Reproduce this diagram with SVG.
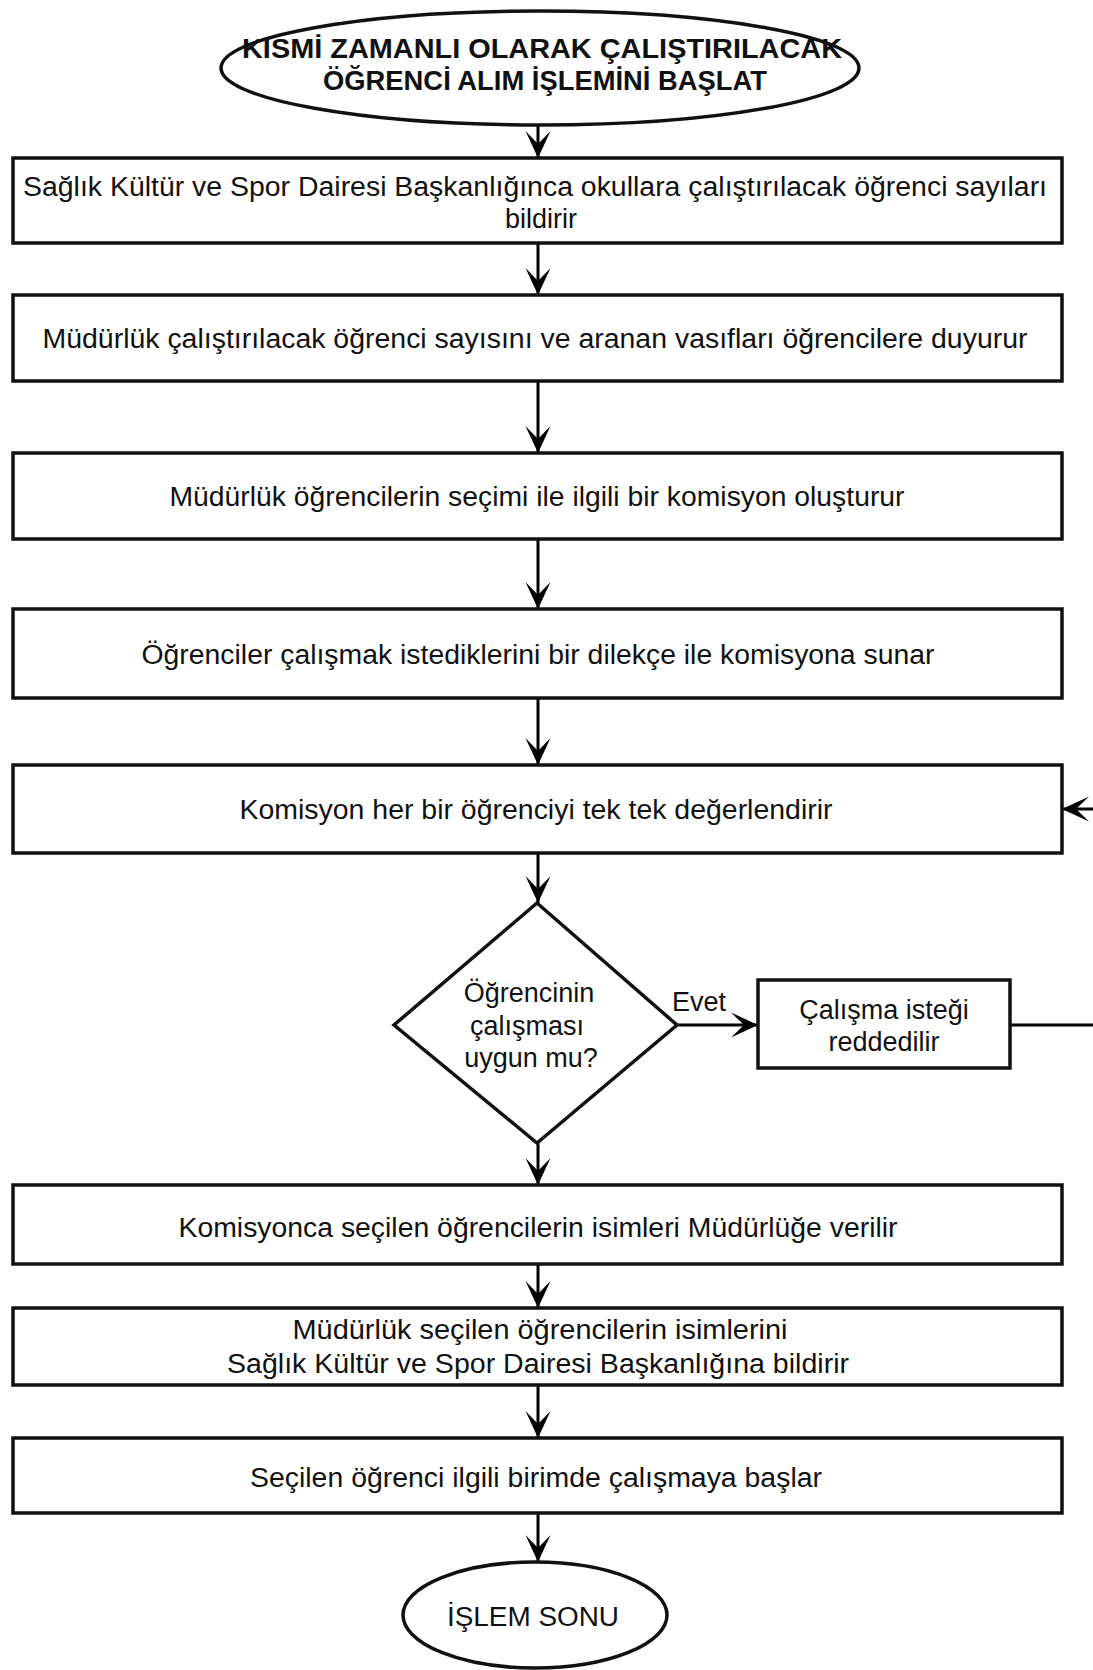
<svg xmlns="http://www.w3.org/2000/svg" width="1093" height="1670" viewBox="0 0 1093 1670">
  <defs>
    <marker id="arrow" markerUnits="userSpaceOnUse" markerWidth="32" markerHeight="30" viewBox="-30 -15 32 30" refX="0" refY="0" orient="auto">
      <path d="M0,0 L-27,-12.5 L-14,0 L-27,12.5 Z" fill="#000"/>
    </marker>
    <style>
      .shape { fill: #fff; stroke: #111; stroke-width: 3.5; }
      .edge { fill: none; stroke: #000; stroke-width: 3; marker-end: url(#arrow); }
      text { font-family: "Liberation Sans", Arial, Helvetica, sans-serif; font-size: 27px; fill: #111; text-anchor: middle; }
      .title { font-weight: bold; }
    </style>
  </defs>
  <rect width="1093" height="1670" fill="#fff"/>

  <!-- connectors -->
  <g id="connectors">
    <path class="edge" d="M538,125 V158"/>
    <path class="edge" d="M538,243 V295"/>
    <path class="edge" d="M538,381 V453"/>
    <path class="edge" d="M538,539 V609"/>
    <path class="edge" d="M538,698 V765"/>
    <path class="edge" d="M538,853 V903"/>
    <path class="edge" d="M677,1025 H758"/>
    <path class="edge" d="M1010,1025 H1110 V809 H1062"/>
    <path class="edge" d="M538,1143 V1185"/>
    <path class="edge" d="M538,1264 V1308"/>
    <path class="edge" d="M538,1385 V1438"/>
    <path class="edge" d="M538,1513 V1562"/>
    <text x="699" y="1011">Evet</text>
  </g>

  <g id="start">
    <ellipse class="shape" cx="540" cy="68" rx="319" ry="57"/>
    <text class="title" x="542" y="58" textLength="600" lengthAdjust="spacingAndGlyphs">KISMİ ZAMANLI OLARAK ÇALIŞTIRILACAK</text>
    <text class="title" x="545" y="90" textLength="444" lengthAdjust="spacingAndGlyphs">ÖĞRENCİ ALIM İŞLEMİNİ BAŞLAT</text>
  </g>

  <g id="step1">
    <rect class="shape" x="13" y="158" width="1049" height="85"/>
    <text x="535" y="196" textLength="1024" lengthAdjust="spacingAndGlyphs">Sağlık Kültür ve Spor Dairesi Başkanlığınca okullara çalıştırılacak öğrenci sayıları</text>
    <text x="541" y="228">bildirir</text>
  </g>

  <g id="step2">
    <rect class="shape" x="13" y="295" width="1049" height="86"/>
    <text x="535" y="348" textLength="985" lengthAdjust="spacingAndGlyphs">Müdürlük çalıştırılacak öğrenci sayısını ve aranan vasıfları öğrencilere duyurur</text>
  </g>

  <g id="step3">
    <rect class="shape" x="13" y="453" width="1049" height="86"/>
    <text x="537" y="506" textLength="735" lengthAdjust="spacingAndGlyphs">Müdürlük öğrencilerin seçimi ile ilgili bir komisyon oluşturur</text>
  </g>

  <g id="step4">
    <rect class="shape" x="13" y="609" width="1049" height="89"/>
    <text x="538" y="664" textLength="793" lengthAdjust="spacingAndGlyphs">Öğrenciler çalışmak istediklerini bir dilekçe ile komisyona sunar</text>
  </g>

  <g id="step5">
    <rect class="shape" x="13" y="765" width="1049" height="88"/>
    <text x="536" y="819" textLength="593" lengthAdjust="spacingAndGlyphs">Komisyon her bir öğrenciyi tek tek değerlendirir</text>
  </g>

  <g id="decision">
    <polygon class="shape" points="537,903 677,1025 537,1143 394,1025"/>
    <text x="529" y="1002">Öğrencinin</text>
    <text x="527" y="1035">çalışması</text>
    <text x="531" y="1067">uygun mu?</text>
  </g>

  <g id="reject">
    <rect class="shape" x="758" y="980" width="252" height="88"/>
    <text x="884" y="1019">Çalışma isteği</text>
    <text x="884" y="1051">reddedilir</text>
  </g>

  <g id="step6">
    <rect class="shape" x="13" y="1185" width="1049" height="79"/>
    <text x="538" y="1237" textLength="719" lengthAdjust="spacingAndGlyphs">Komisyonca seçilen öğrencilerin isimleri Müdürlüğe verilir</text>
  </g>

  <g id="step7">
    <rect class="shape" x="13" y="1308" width="1049" height="77"/>
    <text x="540" y="1339" textLength="495" lengthAdjust="spacingAndGlyphs">Müdürlük seçilen öğrencilerin isimlerini</text>
    <text x="538" y="1373" textLength="622" lengthAdjust="spacingAndGlyphs">Sağlık Kültür ve Spor Dairesi Başkanlığına bildirir</text>
  </g>

  <g id="step8">
    <rect class="shape" x="13" y="1438" width="1049" height="75"/>
    <text x="536" y="1487" textLength="572" lengthAdjust="spacingAndGlyphs">Seçilen öğrenci ilgili birimde çalışmaya başlar</text>
  </g>

  <g id="end">
    <ellipse class="shape" cx="535" cy="1615" rx="132" ry="53"/>
    <text x="533" y="1626" textLength="172" lengthAdjust="spacingAndGlyphs">İŞLEM SONU</text>
  </g>
</svg>
